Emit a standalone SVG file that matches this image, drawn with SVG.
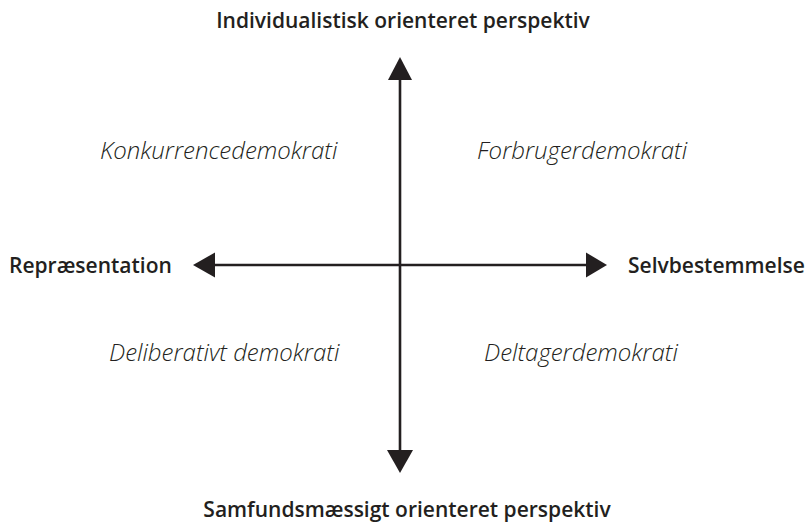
<svg xmlns="http://www.w3.org/2000/svg" width="811" height="527" viewBox="0 0 811 527">
<style>
.axis{stroke:#231f20;stroke-width:2.6;fill:none}
.head{fill:#231f20}
.b{font-family:"Open Sans","Liberation Sans",sans-serif;font-weight:600;font-size:21px;fill:#231f20}
.i{font-family:"Open Sans","Liberation Sans",sans-serif;font-style:italic;font-weight:300;font-size:24px;fill:#231f20}
</style>
<rect width="811" height="527" fill="#ffffff"/>
<g id="connectors">
<line class="axis" x1="400" y1="75" x2="400" y2="455"/>
<line class="axis" x1="210" y1="265" x2="590" y2="265"/>
<polygon class="head" points="400,57 388,80 412,80"/>
<polygon class="head" points="400,473 387,450 413,450"/>
<polygon class="head" points="193,265 215,252.5 215,277.5"/>
<polygon class="head" points="607,265 586,252.5 586,277.5"/>
</g>
<g id="top"><text class="b" x="403" y="28" text-anchor="middle">Individualistisk orienteret perspektiv</text></g>
<g id="bottom"><text class="b" x="407" y="517" text-anchor="middle">Samfundsmæssigt orienteret perspektiv</text></g>
<g id="left"><text class="b" x="9" y="273">Repræsentation</text></g>
<g id="right"><text class="b" x="628" y="273">Selvbestemmelse</text></g>
<g id="q1"><text class="i" x="100" y="159">Konkurrencedemokrati</text></g>
<g id="q2"><text class="i" x="477" y="159">Forbrugerdemokrati</text></g>
<g id="q3"><text class="i" x="109" y="361">Deliberativt demokrati</text></g>
<g id="q4"><text class="i" x="484" y="361">Deltagerdemokrati</text></g>
</svg>
